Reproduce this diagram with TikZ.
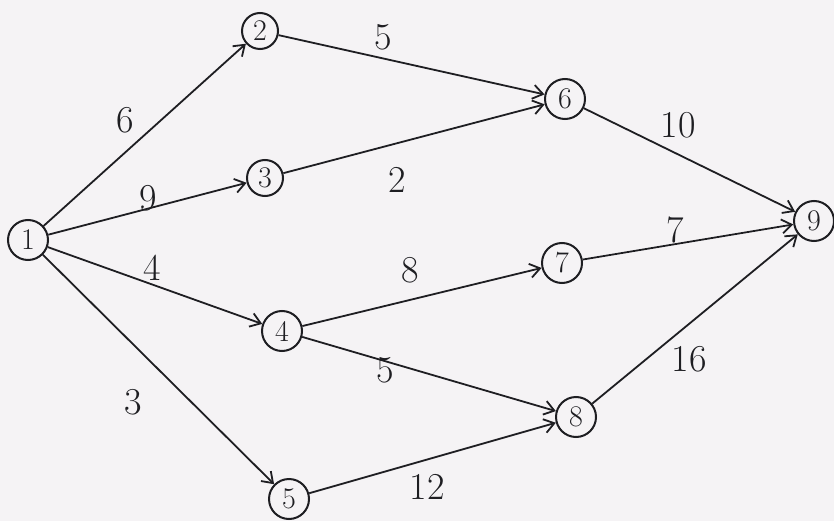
\documentclass[tikz,border=0pt]{standalone}
\usetikzlibrary{arrows.meta}
\definecolor{ink}{HTML}{1E1E22}
\definecolor{paper}{HTML}{F5F3F5}
\begin{document}
\begin{tikzpicture}[x=1pt,y=-1pt,
  vtx/.style={circle,draw=ink,line width=2pt,minimum size=40pt,inner sep=0pt,
    text=ink,font=\fontsize{30}{30}\selectfont},
  wt/.style={text=ink,font=\fontsize{38}{38}\selectfont,inner sep=0pt},
  edge/.style={draw=ink,line width=1.8pt,-{Straight Barb[length=10pt,width=14pt,line width=1.8pt]}}]
\fill[paper] (0,0) rectangle (834,521);
\useasboundingbox (0,0) rectangle (834,521);
\node[vtx] (n1) at (28,240) {1};
\node[vtx,minimum size=36pt] (n2) at (260,31) {2};
\node[vtx,minimum size=36pt] (n3) at (265,178) {3};
\node[vtx] (n4) at (282,331) {4};
\node[vtx] (n5) at (289,499) {5};
\node[vtx] (n6) at (565,99) {6};
\node[vtx] (n7) at (562,263) {7};
\node[vtx] (n8) at (576,417) {8};
\node[vtx] (n9) at (814,221) {9};
\draw[edge] (n1) -- (n2);
\draw[edge] (n1) -- (n3);
\draw[edge] (n1) -- (n4);
\draw[edge] (n1) -- (n5);
\draw[edge] (n2) -- (n6);
\draw[edge] (n3) -- (n6);
\draw[edge] (n4) -- (n7);
\draw[edge] (n4) -- (n8);
\draw[edge] (n5) -- (n8);
\draw[edge] (n6) -- (n9);
\draw[edge] (n7) -- (n9);
\draw[edge] (n8) -- (n9);
\node[wt] (w12) at (125,120) {6};
\node[wt] (w13) at (148,198) {9};
\node[wt] (w14) at (152,268) {4};
\node[wt] (w15) at (133,402) {3};
\node[wt] (w26) at (383,37) {5};
\node[wt] (w36) at (397,180) {2};
\node[wt] (w47) at (410,270) {8};
\node[wt] (w48) at (385,370) {5};
\node[wt] (w58) at (427,487) {12};
\node[wt] (w69) at (678,125) {10};
\node[wt] (w79) at (675,230) {7};
\node[wt] (w89) at (689,359) {16};
\end{tikzpicture}
\end{document}
